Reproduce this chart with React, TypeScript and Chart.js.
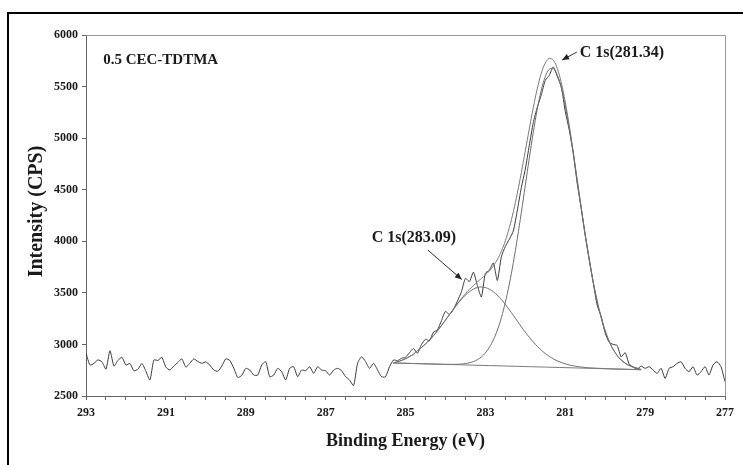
import { useEffect, useRef } from 'react';
import { Chart, registerables } from 'chart.js';

Chart.register(...registerables);

// C 1s scan: 293.0 → 277.0 eV in 0.1 eV steps
const SCAN_START_EV = 293.0;
const SCAN_STEP_EV = 0.1;
const scanCounts = [
  2915, 2800, 2817, 2850, 2830, 2760, 2940, 2790, 2845, 2875, 2800,
  2815, 2745, 2760, 2815, 2740, 2655, 2850, 2845, 2875, 2780,
  2752, 2790, 2825, 2860, 2780, 2817, 2860, 2835, 2817, 2830,
  2800, 2752, 2740, 2790, 2860, 2845, 2770, 2680, 2700, 2768,
  2752, 2703, 2703, 2800, 2833, 2687, 2703, 2768, 2736, 2655,
  2768, 2784, 2687, 2752, 2745, 2784, 2720, 2784, 2752, 2745,
  2703, 2752, 2768, 2745, 2687, 2655, 2600, 2817, 2881, 2833,
  2768, 2817, 2752, 2687, 2687, 2784, 2849, 2843, 2865, 2875,
  2920, 2960, 2915, 3000, 3050, 3035, 3120, 3140, 3230, 3320,
  3290, 3340, 3420, 3510, 3640, 3610, 3700, 3570, 3460, 3690,
  3720, 3790, 3620, 3850, 3950, 4020, 4100, 4300, 4520, 4700,
  4930, 5150, 5300, 5420, 5560, 5610, 5690, 5600, 5500, 5260,
  5080, 4860, 4560, 4320, 4060, 3830, 3600, 3380, 3270, 3110,
  3020, 3000, 2990, 2880, 2920, 2810, 2780, 2760, 2790, 2768,
  2784, 2752, 2719, 2768, 2671, 2768, 2784, 2816, 2832, 2768,
  2736, 2784, 2703, 2736, 2784, 2703, 2800, 2832, 2784, 2639,
];

// Fitted curves: 285.3 → 279.1 eV in 0.1 eV steps
const FIT_START_EV = 285.3;
const FIT_STEP_EV = 0.1;
const fitEnvelope = [
  2822, 2832, 2845, 2862, 2882, 2905, 2940, 2970, 3004, 3042,
  3085, 3133, 3183, 3236, 3290, 3343, 3395, 3445, 3491, 3533,
  3571, 3606, 3639, 3674, 3713, 3761, 3823, 3903, 4005, 4133,
  4287, 4466, 4665, 4877, 5091, 5297, 5480, 5628, 5728, 5772,
  5755, 5676, 5539, 5351, 5123, 4867, 4597, 4326, 4065, 3824,
  3607, 3420, 3262, 3133, 3031, 2952, 2893, 2849, 2818, 2796,
  2781, 2770, 2757,
];
const peakC1s28134 = [
  2820, 2819, 2818, 2817, 2816, 2815, 2814, 2813, 2812, 2811,
  2810, 2809, 2808, 2807, 2807, 2807, 2808, 2810, 2815, 2822,
  2834, 2852, 2879, 2918, 2972, 3044, 3139, 3259, 3408, 3586,
  3794, 4027, 4279, 4543, 4806, 5057, 5281, 5464, 5596, 5667,
  5673, 5612, 5490, 5314, 5095, 4847, 4583, 4316, 4058, 3819,
  3604, 3417, 3260, 3132, 3030, 2952, 2893, 2849, 2818, 2796,
  2781, 2768, 2757,
];
const peakC1s28309 = [
  2822, 2832, 2845, 2862, 2882, 2905, 2940, 2970, 3004, 3042,
  3085, 3132, 3183, 3235, 3288, 3340, 3391, 3437, 3478, 3511,
  3536, 3552, 3557, 3551, 3536, 3511, 3477, 3435, 3388, 3336,
  3282, 3227, 3172, 3119, 3069, 3023, 2982, 2944, 2912, 2884,
  2861, 2841, 2825, 2812, 2801, 2793, 2786, 2781, 2777, 2773,
  2771, 2769, 2767, 2765, 2764, 2762, 2761, 2760, 2759, 2758,
  2757, 2756, 2755,
];
const baselineEnergies = [285.3, 279.1];
const baselineCounts = [2820, 2755];

const X_MIN = 277;
const X_MAX = 293;
const Y_MIN = 2500;
const Y_MAX = 6000;
const Y_STEP = 500;
const X_STEP = 0.5;
const X_LABELLED = [293, 291, 289, 287, 285, 283, 281, 279, 277];

const SAMPLE_NAME = '0.5 CEC-TDTMA';
const PEAK_LABEL_A = 'C 1s(281.34)';
const PEAK_LABEL_B = 'C 1s(283.09)';
const X_TITLE = 'Binding Energy (eV)';
const Y_TITLE = 'Intensity (CPS)';

// label anchors in (eV, counts)
const sampleNameAt = { e: 292.57, v: 5757 };
const peakA = { text: { e: 280.64, v: 5825 }, tail: { e: 280.71, v: 5835 }, tip: { e: 281.08, v: 5757 } };
const peakB = { text: { e: 284.79, v: 4032 }, tail: { e: 284.44, v: 3915 }, tip: { e: 283.59, v: 3629 } };

const toPoints = (start: number, step: number, values: number[]) =>
  values.map((v, i) => ({ x: +(start - step * i).toFixed(2), y: v }));

const SERIF = '"Liberation Serif", "Times New Roman", serif';

const annotations = {
  id: 'xpsAnnotations',
  afterDraw(chart: any) {
    const { ctx, chartArea, scales } = chart;
    const px = (e: number) => scales.x.getPixelForValue(e);
    const py = (v: number) => scales.y.getPixelForValue(v);
    ctx.save();
    // top and right frame of the plot area
    ctx.strokeStyle = '#999';
    ctx.lineWidth = 1;
    ctx.beginPath();
    ctx.moveTo(chartArea.left, chartArea.top + 0.5);
    ctx.lineTo(chartArea.right + 0.5, chartArea.top + 0.5);
    ctx.lineTo(chartArea.right + 0.5, chartArea.bottom);
    ctx.stroke();

    ctx.fillStyle = '#1a1a1a';
    ctx.textBaseline = 'middle';
    ctx.textAlign = 'left';
    ctx.font = `bold 15px ${SERIF}`;
    ctx.fillText(SAMPLE_NAME, px(sampleNameAt.e), py(sampleNameAt.v));

    ctx.font = `bold 16px ${SERIF}`;
    ctx.fillText(PEAK_LABEL_A, px(peakA.text.e), py(peakA.text.v));
    ctx.textAlign = 'center';
    ctx.fillText(PEAK_LABEL_B, px(peakB.text.e), py(peakB.text.v));

    const arrow = (t: { e: number; v: number }, h: { e: number; v: number }) => {
      const x0 = px(t.e), y0 = py(t.v), x1 = px(h.e), y1 = py(h.v);
      const ang = Math.atan2(y1 - y0, x1 - x0);
      ctx.strokeStyle = '#333';
      ctx.lineWidth = 1;
      ctx.beginPath();
      ctx.moveTo(x0, y0);
      ctx.lineTo(x1, y1);
      ctx.stroke();
      const len = 7, half = 3;
      ctx.fillStyle = '#222';
      ctx.beginPath();
      ctx.moveTo(x1, y1);
      ctx.lineTo(x1 - len * Math.cos(ang) + half * Math.sin(ang), y1 - len * Math.sin(ang) - half * Math.cos(ang));
      ctx.lineTo(x1 - len * Math.cos(ang) - half * Math.sin(ang), y1 - len * Math.sin(ang) + half * Math.cos(ang));
      ctx.closePath();
      ctx.fill();
    };
    arrow(peakA.tail, peakA.tip);
    arrow(peakB.tail, peakB.tip);

    // axis titles
    ctx.fillStyle = '#1a1a1a';
    ctx.textAlign = 'center';
    ctx.textBaseline = 'middle';
    ctx.font = `bold 18px ${SERIF}`;
    ctx.fillText(X_TITLE, (chartArea.left + chartArea.right) / 2, 441);
    ctx.font = `bold 20px ${SERIF}`;
    ctx.translate(37, (chartArea.top + chartArea.bottom) / 2 - 4);
    ctx.rotate(-Math.PI / 2);
    ctx.fillText(Y_TITLE, 0, 0);
    ctx.restore();
  },
};

export default function App() {
  const canvasRef = useRef<HTMLCanvasElement | null>(null);

  useEffect(() => {
    if (!canvasRef.current) return;
    const fitLine = (label: string, data: any[], color: string) => ({
      label,
      data,
      borderColor: color,
      borderWidth: 1,
      pointRadius: 0,
      tension: 0.4,
      fill: false,
    });
    const chart = new Chart(canvasRef.current, {
      type: 'line',
      data: {
        datasets: [
          fitLine('Baseline', baselineEnergies.map((e, i) => ({ x: e, y: baselineCounts[i] })), '#7a7a7a'),
          fitLine('C 1s 283.09', toPoints(FIT_START_EV, FIT_STEP_EV, peakC1s28309), '#6e6e6e'),
          fitLine('C 1s 281.34', toPoints(FIT_START_EV, FIT_STEP_EV, peakC1s28134), '#6e6e6e'),
          fitLine('Envelope', toPoints(FIT_START_EV, FIT_STEP_EV, fitEnvelope), '#7a7a7a'),
          {
            label: 'Measured',
            data: toPoints(SCAN_START_EV, SCAN_STEP_EV, scanCounts),
            borderColor: '#3a3a3a',
            borderWidth: 1,
            pointRadius: 0,
            tension: 0.2,
            fill: false,
          },
        ],
      },
      options: {
        responsive: false,
        animation: false,
        devicePixelRatio: 1,
        layout: { padding: { top: 35, right: 18, left: 0, bottom: 0 } },
        plugins: { legend: { display: false }, tooltip: { enabled: false }, title: { display: false } },
        scales: {
          x: {
            type: 'linear',
            min: X_MIN,
            max: X_MAX,
            reverse: true,
            grid: { drawOnChartArea: false, drawTicks: true, tickLength: 4, color: '#666' },
            border: { color: '#666', width: 1 },
            ticks: {
              stepSize: X_STEP,
              autoSkip: false,
              maxRotation: 0,
              padding: 6,
              color: '#1a1a1a',
              font: { family: SERIF, size: 12, weight: 'bold' },
              callback: (val: any) => {
                const n = Number(val);
                const r = Math.round(n);
                return Math.abs(n - r) < 1e-6 && X_LABELLED.includes(r) ? String(r) : '';
              },
            },
            afterFit: (scale: any) => {
              scale.height = 69;
            },
          },
          y: {
            type: 'linear',
            min: Y_MIN,
            max: Y_MAX,
            grid: { drawOnChartArea: false, drawTicks: true, tickLength: 4, color: '#666' },
            border: { color: '#666', width: 1 },
            ticks: {
              stepSize: Y_STEP,
              padding: 4,
              color: '#1a1a1a',
              font: { family: SERIF, size: 12, weight: 'bold' },
              callback: (val: any) => String(Math.round(Number(val))),
            },
            afterFit: (scale: any) => {
              scale.width = 86;
            },
          },
        },
      },
      plugins: [annotations],
    });
    return () => chart.destroy();
  }, []);

  return (
    <div
      style={{
        position: 'fixed',
        left: 0,
        top: 0,
        width: 743,
        height: 465,
        overflow: 'hidden',
        background: '#fff',
      }}
    >
      <canvas ref={canvasRef} width={743} height={465} style={{ display: 'block', position: 'absolute', left: 0, top: 0 }} />
      <div
        style={{
          position: 'absolute',
          left: 7,
          top: 12,
          width: 800,
          height: 500,
          borderTop: '2px solid #000',
          borderLeft: '2px solid #000',
          pointerEvents: 'none',
        }}
      />
    </div>
  );
}
